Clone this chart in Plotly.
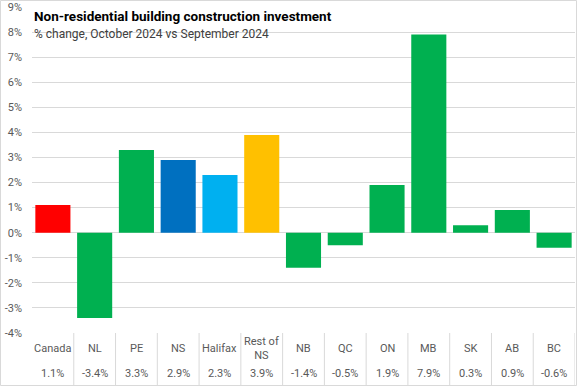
import plotly.graph_objects as go

categories = ["Canada", "NL", "PE", "NS", "Halifax", "Rest of NS", "NB", "QC", "ON", "MB", "SK", "AB", "BC"]
labels = ["Canada", "NL", "PE", "NS", "Halifax", "Rest of<br>NS", "NB", "QC", "ON", "MB", "SK", "AB", "BC"]
values = [1.1, -3.4, 3.3, 2.9, 2.3, 3.9, -1.4, -0.5, 1.9, 7.9, 0.3, 0.9, -0.6]
colors = ["#FF0000", "#00B050", "#00B050", "#0070C0", "#00B0F0", "#FFC000",
          "#00B050", "#00B050", "#00B050", "#00B050", "#00B050", "#00B050", "#00B050"]
yticks = list(range(-4, 10))

FONT = "Liberation Sans Narrow, Arial Narrow, Roboto, Liberation Sans, sans-serif"
GRAY = "#595959"
GRID = "#D9D9D9"

W, H = 577, 386
L, R, T, B = 32, 2, 7, 53
ph = H - T - B
pw = W - L - R

fig = go.Figure(go.Bar(x=list(range(len(categories))), y=values, marker_color=colors,
                       marker_line_width=0, hovertext=categories))

ann = []
for i, (lab, v) in enumerate(zip(labels, values)):
    ann.append(dict(x=i, y=-15 / ph, xref="x", yref="paper", text=lab, showarrow=False,
                    xanchor="center", yanchor="middle", font=dict(family=FONT, size=11, color=GRAY)))
    ann.append(dict(x=i, y=-40 / ph, xref="x", yref="paper", text=f"{v:.1f}%", showarrow=False,
                    xanchor="center", yanchor="middle", font=dict(family=FONT, size=11, color=GRAY)))

ann.append(dict(x=0, y=(H - B - 16) / ph, xref="paper", yref="paper", yanchor="middle", xanchor="left",
                xshift=0, text="<b>Non-residential building construction investment</b>",
                showarrow=False, font=dict(family=FONT, size=13.5, color="#000000")))
ann.append(dict(x=0, y=(H - B - 34) / ph, xref="paper", yref="paper", yanchor="middle",
                xanchor="left", xshift=0, text="% change, October 2024 vs September 2024",
                showarrow=False, font=dict(family=FONT, size=12, color="#404040")))

shapes = []
for i in range(len(categories)):
    shapes.append(dict(type="line", xref="x", yref="paper", x0=i + 0.5, x1=i + 0.5,
                       y0=0, y1=-B / ph, line=dict(color=GRID, width=1)))

# outer chart border
shapes.append(dict(type="rect", xref="paper", yref="paper",
                   x0=(-L + 0.5) / pw, x1=1 + (R - 0.5) / pw, y0=(-B + 0.5) / ph, y1=1 + (T - 0.5) / ph,
                   line=dict(color=GRID, width=1)))

fig.update_layout(
    width=W, height=H,
    margin=dict(l=L, r=R, t=T, b=B),
    paper_bgcolor="white", plot_bgcolor="white",
    showlegend=False,
    bargap=0.16,
    xaxis=dict(range=[-0.5, len(categories) - 0.5], showticklabels=False, showgrid=False,
               zeroline=False, showline=False, fixedrange=True),
    yaxis=dict(range=[-4, 9], tickvals=yticks, ticktext=[f"{t}%" for t in yticks],
               showgrid=True, gridcolor=GRID, gridwidth=1, zeroline=False, showline=False,
               ticks="", ticklabelstandoff=9,
               tickfont=dict(family=FONT, size=11, color=GRAY)),
    annotations=ann,
    shapes=shapes,
)

fig.write_html("out.html", config={"displayModeBar": False},
               post_script="document.body.style.margin='0';")
